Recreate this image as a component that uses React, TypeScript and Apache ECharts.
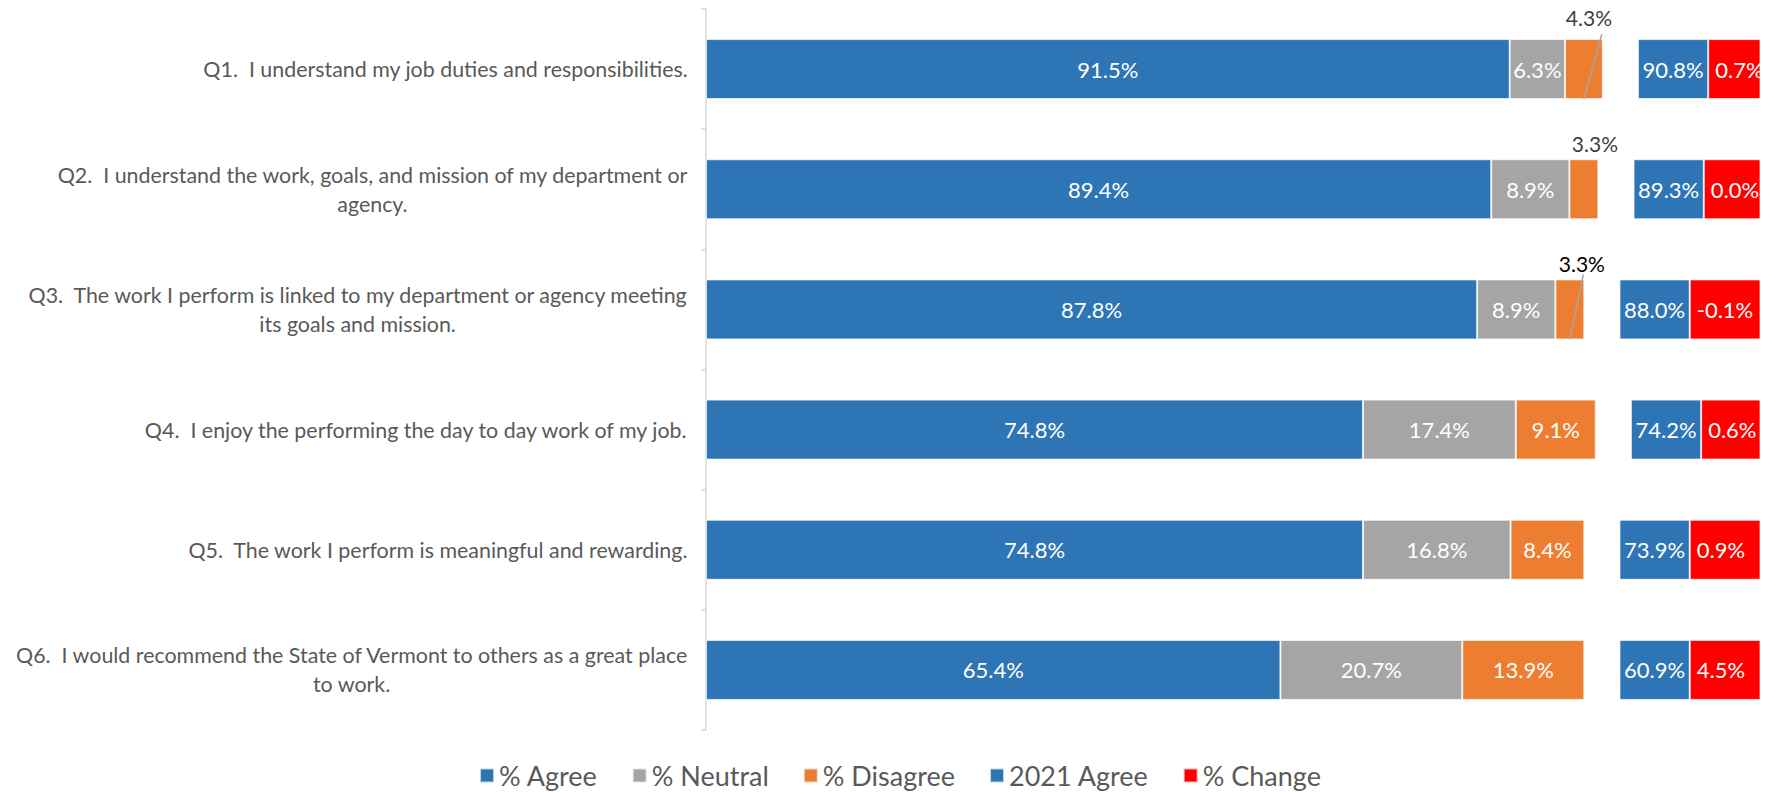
import React, { useEffect, useRef } from "react";
import * as echarts from "echarts";

const categories = [
  "Q1.  I understand my job duties and responsibilities.",
  "Q2.  I understand the work, goals, and mission of my department or\nagency.",
  "Q3.  The work I perform is linked to my department or agency meeting\nits goals and mission.",
  "Q4.  I enjoy the performing the day to day work of my job.",
  "Q5.  The work I perform is meaningful and rewarding.",
  "Q6.  I would recommend the State of Vermont to others as a great place\nto work.",
];
const agree = [91.5, 89.4, 87.8, 74.8, 74.8, 65.4];
const neutral = [6.3, 8.9, 8.9, 17.4, 16.8, 20.7];
const disagree = [4.3, 3.3, 3.3, 9.1, 8.4, 13.9];
const agree2021 = [90.8, 89.3, 88.0, 74.2, 73.9, 60.9];
const change = [0.7, 0.0, -0.1, 0.6, 0.9, 4.5];
const legendNames = ["% Agree", "% Neutral", "% Disagree", "2021 Agree", "% Change"];
// questions whose small "% Disagree" label sits above the bar, and those with a leader line
const labelAboveIdx = [0, 1, 2];
const leaderIdx = [0, 2];

// display-only widths of the spacer and comparison segments (as in the source chart)
const GAP_WIDTH = 4;
const AGREE2021_WIDTH = 8;
const CHANGE_WIDTH = 10;

const FONT = "Lato";
const BORDER = { borderColor: "rgba(255,255,255,0.7)", borderWidth: 1 };
const BAR_W = 60;
const CAT_FONT = 21.4;

export default function App() {
  const ref = useRef<HTMLDivElement>(null);
  useEffect(() => {
    document.body.style.margin = "0";
    const chart = echarts.init(ref.current!, null, { renderer: "svg" });
    const pct = (v: number) => `${v.toFixed(1)}%`;
    const innerLabel = {
      show: true,
      position: "inside",
      color: "#ffffff",
      fontFamily: FONT,
      fontSize: 22,
    };
    const aboveStyle: Record<number, { dx: number; dy: number; color: string }> = {
      0: { dx: 5, dy: -6, color: "#404040" },
      1: { dx: 11, dy: 0, color: "#404040" },
      2: { dx: 12, dy: 0, color: "#000000" },
    };
    chart.setOption({
      animation: false,
      textStyle: { fontFamily: FONT },
      grid: {
        left: 706,
        right: 7,
        top: 9,
        bottom: 62,
        containLabel: false,
        outerBoundsMode: "none",
      },
      legend: {
        data: legendNames,
        left: 474,
        top: 757,
        itemWidth: 14,
        itemHeight: 14,
        itemGap: 34,
        icon: "rect",
        textStyle: { fontFamily: FONT, fontSize: 27, color: "#595959" },
      },
      xAxis: { type: "value", min: 0, max: 120, show: false },
      yAxis: {
        type: "category",
        data: categories,
        inverse: true,
        axisLine: { show: true, lineStyle: { color: "#d9d9d9", width: 1.5 } },
        axisTick: { show: true, length: 5, lineStyle: { color: "#d9d9d9", width: 1.5 } },
        axisLabel: {
          margin: 18,
          fontFamily: FONT,
          fontSize: CAT_FONT,
          color: "#595959",
          align: "right",
          lineHeight: 29,
          formatter: (v: string) =>
            v
              .split("\n")
              .map((l) => `{c|${l}}`)
              .join("\n"),
          rich: {
            c: { align: "center", fontFamily: FONT, fontSize: CAT_FONT, color: "#595959", lineHeight: 29 },
          },
        },
      },
      series: [
        {
          name: "% Agree",
          type: "bar",
          stack: "s",
          barWidth: BAR_W,
          itemStyle: { color: "#2E75B6", ...BORDER },
          label: { ...innerLabel, formatter: (p: any) => pct(agree[p.dataIndex]) },
          data: agree,
        },
        {
          name: "% Neutral",
          type: "bar",
          stack: "s",
          itemStyle: { color: "#A5A5A5", ...BORDER },
          label: { ...innerLabel, formatter: (p: any) => pct(neutral[p.dataIndex]) },
          data: neutral,
        },
        {
          name: "% Disagree",
          type: "bar",
          stack: "s",
          itemStyle: { color: "#ED7D31", ...BORDER },
          label: { ...innerLabel, formatter: (p: any) => pct(disagree[p.dataIndex]) },
          labelLayout: (p: any) => {
            const o = aboveStyle[p.dataIndex];
            return o ? { dx: o.dx, dy: o.dy } : {};
          },
          data: disagree.map((v, i) => {
            if (!labelAboveIdx.includes(i)) return v;
            return {
              value: v,
              label: { position: "top", distance: 5, color: aboveStyle[i].color, fontSize: 21 },
            };
          }),
        },
        {
          name: "gap",
          type: "bar",
          stack: "s",
          itemStyle: { color: "transparent" },
          silent: true,
          data: agree.map(() => GAP_WIDTH),
        },
        {
          name: "2021 Agree",
          type: "bar",
          stack: "s",
          itemStyle: { color: "#2E75B6", ...BORDER },
          label: { ...innerLabel, formatter: (p: any) => pct(agree2021[p.dataIndex]) },
          data: agree2021.map(() => AGREE2021_WIDTH),
        },
        {
          name: "% Change",
          type: "bar",
          stack: "s",
          itemStyle: { color: "#FF0000", ...BORDER },
          label: {
            ...innerLabel,
            position: "insideLeft",
            distance: 7,
            formatter: (p: any) => pct(change[p.dataIndex]),
          },
          data: change.map(() => CHANGE_WIDTH),
        },
        {
          name: "leader",
          type: "custom",
          silent: true,
          z: 10,
          data: leaderIdx.map((i) => [i]),
          renderItem: (_params: any, api: any) => {
            const i = api.value(0);
            const start = agree[i] + neutral[i];
            const p0 = api.coord([start + disagree[i] / 2, i]);
            const p1 = api.coord([start + disagree[i], i]);
            return {
              type: "line",
              shape: {
                x1: p0[0],
                y1: p0[1] + BAR_W / 2,
                x2: p1[0] - 1,
                y2: p1[1] - BAR_W / 2 - 5,
              },
              style: { stroke: "#A5A5A5", lineWidth: 1.5 },
            };
          },
        },
      ],
    });
    return () => chart.dispose();
  }, []);
  return <div ref={ref} style={{ width: 1767, height: 792 }} />;
}
